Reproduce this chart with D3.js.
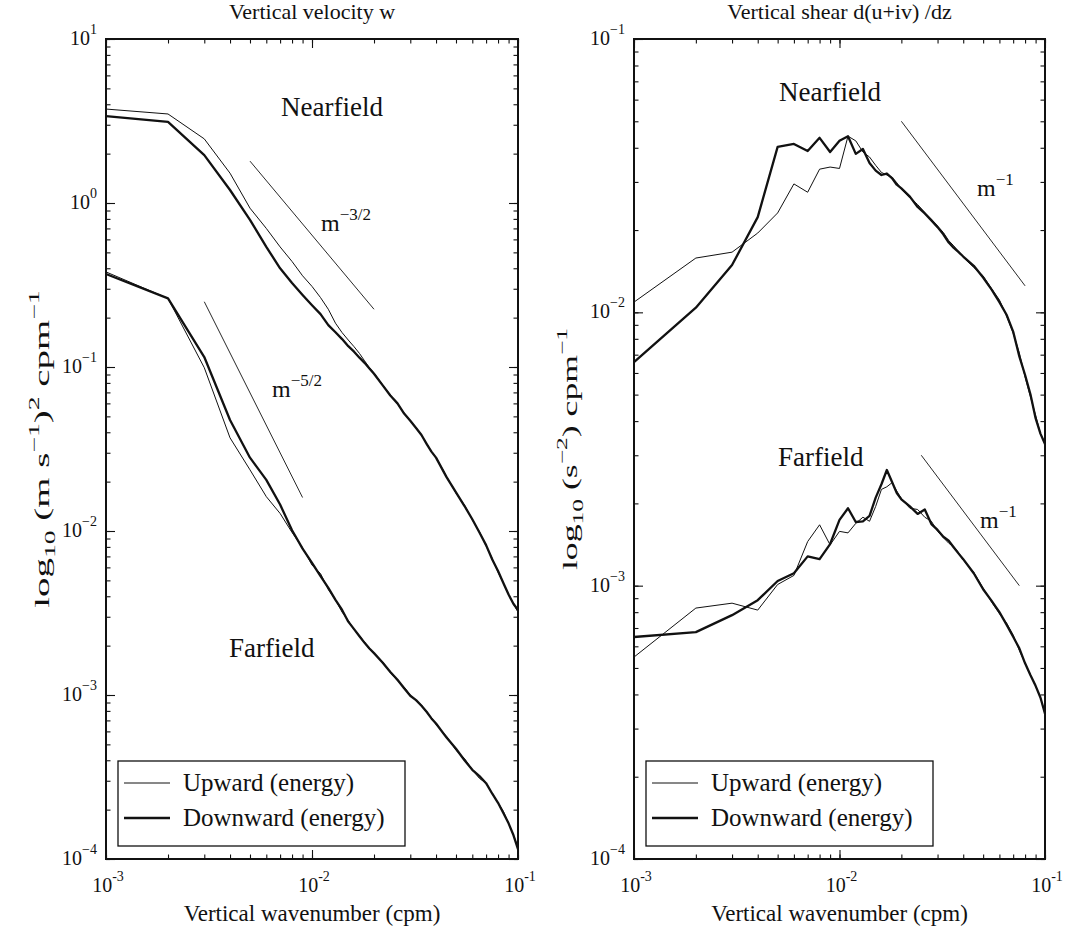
<!DOCTYPE html>
<html>
<head>
<meta charset="utf-8">
<script src="https://cdn.jsdelivr.net/npm/d3@7"></script>
<style>
  body { margin: 0; background: #fff; }
  svg text { font-family: "Liberation Serif", "Times New Roman", serif; fill: #111; }
</style>
</head>
<body>
<svg id="chart" width="1066" height="929"></svg>
<script>
// Vertical wavenumber grid (cpm)
const wavenumber = [
  0.001, 0.002, 0.003, 0.004, 0.005, 0.006, 0.007, 0.008, 0.009, 0.010,
  0.011, 0.012, 0.013, 0.014, 0.015, 0.016, 0.017, 0.018, 0.019, 0.020,
  0.022, 0.024, 0.026, 0.028, 0.030, 0.032, 0.034, 0.036, 0.038, 0.040,
  0.045, 0.050, 0.055, 0.060, 0.065, 0.070, 0.075, 0.080, 0.085, 0.090, 0.095, 0.100
];

// Vertical velocity spectra, (m s^-1)^2 cpm^-1
const wNearUp = [
  3.74, 3.49, 2.46, 1.52, 0.93, 0.70, 0.54, 0.44, 0.36, 0.31,
  0.265, 0.225, 0.185, 0.162, 0.146, 0.133, 0.121, 0.109, 0.099, 0.092,
  0.078, 0.0675, 0.0595, 0.0525, 0.0468, 0.0428, 0.0382, 0.0343, 0.0303, 0.0282,
  0.0215, 0.0170, 0.0144, 0.0117, 0.0099, 0.0081, 0.0068, 0.0056, 0.0048, 0.0041, 0.0036, 0.0032
];
const wNearDown = [
  3.39, 3.12, 1.96, 1.20, 0.79, 0.54, 0.40, 0.325, 0.275, 0.238,
  0.21, 0.18, 0.163, 0.148, 0.134, 0.124, 0.114, 0.106, 0.098, 0.091,
  0.0775, 0.067, 0.060, 0.052, 0.047, 0.0425, 0.0385, 0.034, 0.0305, 0.028,
  0.0213, 0.0172, 0.0142, 0.0118, 0.0098, 0.0082, 0.0067, 0.0057, 0.0048, 0.0041, 0.0036, 0.0033
];
const wFarUp = [
  0.38, 0.262, 0.099, 0.037, 0.0236, 0.0162, 0.0128, 0.0098, 0.0079, 0.0062,
  0.0055, 0.0044, 0.0038, 0.0032, 0.00285, 0.0025, 0.0023, 0.0021, 0.0019, 0.00178,
  0.0016, 0.00137, 0.00122, 0.00112, 0.0010, 0.00092, 0.00087, 0.00078, 0.00073, 0.00066,
  0.00056, 0.00046, 0.00041, 0.00035, 0.00031, 0.00029, 0.00025, 0.00022, 0.000195, 0.000165, 0.00014, 0.000118
];
const wFarDown = [
  0.369, 0.262, 0.115, 0.0475, 0.028, 0.0205, 0.0145, 0.0101, 0.0078, 0.0064,
  0.0053, 0.0045, 0.0038, 0.0033, 0.0028, 0.00252, 0.00228, 0.00208, 0.00192, 0.0018,
  0.00158, 0.00138, 0.00124, 0.0011, 0.00099, 0.00093, 0.00086, 0.00079, 0.00072, 0.00067,
  0.00055, 0.00047, 0.0004, 0.00035, 0.00032, 0.00029, 0.00025, 0.00022, 0.00019, 0.000165, 0.00014, 0.000115
];

// Vertical shear spectra, (s^-2) cpm^-1
const sNearUp = [
  0.0109, 0.0158, 0.0166, 0.0195, 0.0231, 0.0295, 0.0275, 0.0334, 0.0340, 0.0336,
  0.0441, 0.0424, 0.0386, 0.0370, 0.0345, 0.0325, 0.0318, 0.0312, 0.0298, 0.0282,
  0.0262, 0.0248, 0.0232, 0.0219, 0.0207, 0.0196, 0.0183, 0.0175, 0.0167, 0.0159,
  0.0146, 0.0136, 0.0122, 0.0111, 0.0097, 0.0084, 0.0071, 0.0058, 0.0049, 0.0042, 0.0036, 0.0033
];
const sNearDown = [
  0.00658, 0.0104, 0.0149, 0.0223, 0.0403, 0.0413, 0.0389, 0.0435, 0.0386, 0.0424,
  0.0441, 0.0380, 0.0396, 0.0352, 0.0330, 0.0318, 0.0322, 0.0310, 0.0293, 0.0284,
  0.0265, 0.0243, 0.0230, 0.0217, 0.0205, 0.0193, 0.0180, 0.0172, 0.0166, 0.0160,
  0.0148, 0.0134, 0.0121, 0.0109, 0.0098, 0.0085, 0.0069, 0.0059, 0.0050, 0.0041, 0.0036, 0.0033
];
const sFarUp = [
  0.000548, 0.000828, 0.000863, 0.000814, 0.00101, 0.00109, 0.00145, 0.00167, 0.00141, 0.00158,
  0.00156, 0.00169, 0.00178, 0.00172, 0.00195, 0.00225, 0.00230, 0.00238, 0.00222, 0.00208,
  0.00192, 0.00190, 0.00178, 0.00172, 0.00158, 0.00150, 0.00143, 0.00139, 0.00132, 0.00124,
  0.00112, 0.00098, 0.00087, 0.00079, 0.00073, 0.00066, 0.00058, 0.00052, 0.00047, 0.00043, 0.00039, 0.00034
];
const sFarDown = [
  0.000649, 0.000676, 0.00078, 0.000885, 0.00104, 0.00111, 0.00128, 0.00125, 0.00142, 0.00174,
  0.00192, 0.00171, 0.00172, 0.00180, 0.00210, 0.00235, 0.00265, 0.00240, 0.00218, 0.00207,
  0.00195, 0.00183, 0.00190, 0.00168, 0.00160, 0.00151, 0.00146, 0.00138, 0.00131, 0.00125,
  0.00111, 0.00097, 0.00088, 0.00080, 0.00072, 0.00065, 0.00059, 0.00052, 0.00047, 0.00043, 0.00039, 0.00034
];

// Power-law reference slopes: [wavenumber, spectral level] end points
const slopeW32 = [[0.005, 1.8], [0.02, 0.225]];
const slopeW52 = [[0.003, 0.25], [0.009, 0.016]];
const slopeSNear = [[0.02, 0.05], [0.08, 0.0125]];
const slopeSFar = [[0.025, 0.003], [0.075, 0.001]];

// Axis extents and tick labels
const xDomain = [1e-3, 1e-1];
const xTickExps = [-3, -2, -1];
const yDomainW = [1e-4, 1e1];
const yTickExpsW = [-4, -3, -2, -1, 0, 1];
const yDomainS = [1e-4, 1e-1];
const yTickExpsS = [-4, -3, -2, -1];
const legendLabels = ["Upward (energy)", "Downward (energy)"];

const svg = d3.select("#chart");
svg.append("rect").attr("width", 1066).attr("height", 929).attr("fill", "#fff");

const INK = "#111";

// text with a superscript/subscript run sequence: parts = [[str, kind]], kind: "n" | "sup" | "sub"
function richText(sel, parts, base, small, rise) {
  let level = 0;
  parts.forEach(([s, kind]) => {
    const target = kind === "sup" ? -rise : kind === "sub" ? rise * 0.55 : 0;
    const t = sel.append("tspan").text(s)
      .attr("font-size", kind === "n" ? base : small);
    if (target !== level) { t.attr("dy", target - level); level = target; }
  });
  return sel;
}

function panel(cfg) {
  const x = d3.scaleLog().domain(xDomain).range([cfg.x0, cfg.x1]);
  const y = d3.scaleLog().domain(cfg.yDomain).range([cfg.y1, cfg.y0]);
  const g = svg.append("g");

  const isMajor = v => Math.abs(Math.log10(v) - Math.round(Math.log10(v))) < 1e-9;
  const xAll = x.ticks(), yAll = y.ticks();
  const xMajor = xAll.filter(isMajor), yMajor = yAll.filter(isMajor);

  // inward ticks on all four sides, minor then major
  const axes = [
    [d3.axisBottom, x, `translate(0,${cfg.y1})`],
    [d3.axisTop, x, `translate(0,${cfg.y0})`],
    [d3.axisLeft, y, `translate(${cfg.x0},0)`],
    [d3.axisRight, y, `translate(${cfg.x1},0)`]
  ];
  axes.forEach(([fn, sc, tr]) => {
    const all = sc === x ? xAll : yAll;
    const maj = sc === x ? xMajor : yMajor;
    [[all, 4.5], [maj, 9]].forEach(([vals, len]) => {
      const a = g.append("g").attr("transform", tr)
        .call(fn(sc).tickValues(vals).tickSize(-len).tickFormat(""));
      a.select(".domain").remove();
      a.selectAll(".tick line").attr("stroke", INK).attr("stroke-width", 1.1);
    });
  });

  // data curves
  const line = d3.line().x(d => x(d[0])).y(d => y(d[1]));
  cfg.series.forEach(s => {
    g.append("path")
      .datum(wavenumber.map((k, i) => [k, s.values[i]]))
      .attr("d", line).attr("fill", "none")
      .attr("stroke", INK).attr("stroke-width", s.width)
      .attr("stroke-linejoin", "round");
  });

  // slope guides
  cfg.slopes.forEach(seg => {
    g.append("path").datum(seg).attr("d", line)
      .attr("fill", "none").attr("stroke", INK).attr("stroke-width", 0.9);
  });

  // frame
  g.append("rect").attr("x", cfg.x0).attr("y", cfg.y0)
    .attr("width", cfg.x1 - cfg.x0).attr("height", cfg.y1 - cfg.y0)
    .attr("fill", "none").attr("stroke", INK).attr("stroke-width", 2);

  // tick labels
  xTickExps.forEach(e => {
    const t = g.append("text").attr("x", x(Math.pow(10, e)) + 2).attr("y", cfg.y1 + 33)
      .attr("text-anchor", "middle");
    richText(t, [["10", "n"], ["-" + Math.abs(e), "sup"]], 20, 14, 11);
  });
  cfg.yTickExps.forEach(e => {
    const t = g.append("text").attr("x", cfg.x0 - 9).attr("y", y(Math.pow(10, e)) + 6)
      .attr("text-anchor", "end");
    richText(t, [["10", "n"], [(e < 0 ? "\u2212" : "") + Math.abs(e), "sup"]], 20, 14, 11);
  });

  // titles and axis labels
  g.append("text").attr("x", (cfg.x0 + cfg.x1) / 2).attr("y", 19)
    .attr("text-anchor", "middle").attr("font-size", 22).text(cfg.title);
  g.append("text").attr("x", (cfg.x0 + cfg.x1) / 2).attr("y", 921)
    .attr("text-anchor", "middle").attr("font-size", 23).text("Vertical wavenumber (cpm)");
  const yl = g.append("text").attr("text-anchor", "middle")
    .attr("transform", `translate(${cfg.ylabelX},${(cfg.y0 + cfg.y1) / 2}) rotate(-90) scale(${cfg.ylabelStretch},1)`);
  richText(yl, cfg.ylabel, 21, 15, 10);

  // region labels
  cfg.regions.forEach(r => {
    g.append("text").attr("x", r.x).attr("y", r.y).attr("font-size", 27).text(r.text);
  });
  cfg.slopeLabels.forEach(r => {
    const t = g.append("text").attr("x", r.x).attr("y", r.y);
    richText(t, [["m", "n"], [r.exp, "sup"]], 24, 17, 11);
  });

  // legend
  const lg = g.append("g");
  const lx = cfg.x0 + 12, ly = 761, lw = 287, lh = 85;
  lg.append("rect").attr("x", lx).attr("y", ly).attr("width", lw).attr("height", lh)
    .attr("fill", "#fff").attr("stroke", INK).attr("stroke-width", 1.3);
  legendLabels.forEach((lab, i) => {
    const cy = ly + 22 + i * 35;
    lg.append("line").attr("x1", lx + 6).attr("x2", lx + 52).attr("y1", cy).attr("y2", cy)
      .attr("stroke", INK).attr("stroke-width", i === 0 ? 1 : 2.3);
    lg.append("text").attr("x", lx + 65).attr("y", cy + 8).attr("font-size", 25).text(lab);
  });
}

panel({
  x0: 106, x1: 518, y0: 39, y1: 859,
  yDomain: yDomainW, yTickExps: yTickExpsW,
  title: "Vertical velocity w",
  ylabelX: 49, ylabelStretch: 1.85,
  ylabel: [["log", "n"], ["10", "sub"], [" (m s", "n"], ["\u22121", "sup"], [")", "n"], ["2", "sup"], [" cpm", "n"], ["\u22121", "sup"]],
  series: [
    { values: wNearUp, width: 1 }, { values: wNearDown, width: 2.3 },
    { values: wFarUp, width: 1 }, { values: wFarDown, width: 2.3 }
  ],
  slopes: [slopeW32, slopeW52],
  regions: [{ text: "Nearfield", x: 281, y: 116 }, { text: "Farfield", x: 229, y: 657 }],
  slopeLabels: [{ x: 321, y: 231, exp: "\u22123/2" }, { x: 272, y: 397, exp: "\u22125/2" }]
});

panel({
  x0: 634, x1: 1045, y0: 39, y1: 859,
  yDomain: yDomainS, yTickExps: yTickExpsS,
  title: "Vertical shear d(u+iv) /dz",
  ylabelX: 577, ylabelStretch: 1.7,
  ylabel: [["log", "n"], ["10", "sub"], [" (s", "n"], ["\u22122", "sup"], [")", "n"], [" cpm", "n"], ["\u22121", "sup"]],
  series: [
    { values: sNearUp, width: 1 }, { values: sNearDown, width: 2.3 },
    { values: sFarUp, width: 1 }, { values: sFarDown, width: 2.3 }
  ],
  slopes: [slopeSNear, slopeSFar],
  regions: [{ text: "Nearfield", x: 779, y: 101 }, { text: "Farfield", x: 778, y: 466 }],
  slopeLabels: [{ x: 977, y: 196, exp: "\u22121" }, { x: 980, y: 528, exp: "\u22121" }]
});
</script>
</body>
</html>
